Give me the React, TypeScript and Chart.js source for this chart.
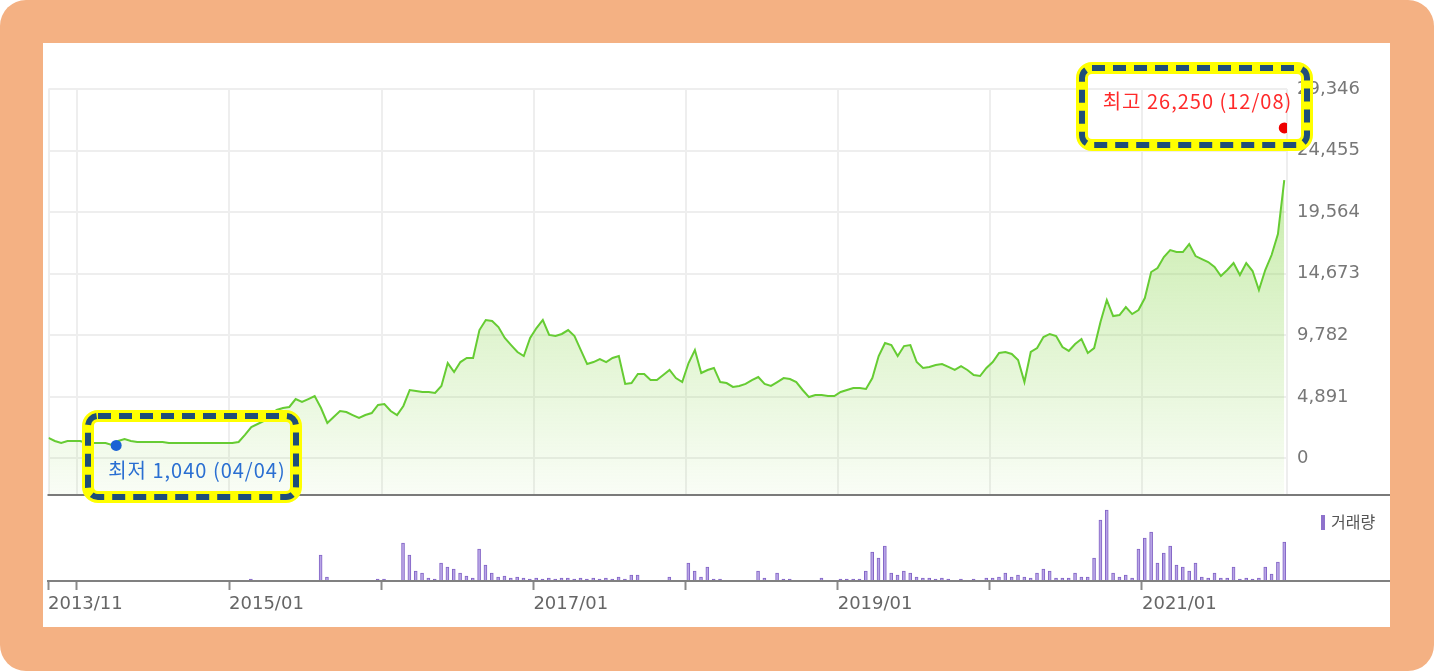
import React, { useEffect, useRef } from 'react';
import { Chart, registerables } from 'chart.js';

Chart.register(...registerables);

// ---- time axis (decimal years, half-month samples) ----
const START = 2013.81;
const STEP = 1 / 24;
const END = 2021.953;

// ---- closing prices (원), one every half month ----
const prices = [
  1630, 1390, 1230, 1390, 1390, 1390, 1230, 1230, 1230, 1230,
  1070, 1390, 1550, 1390, 1310, 1310, 1310, 1310, 1310, 1230,
  1230, 1230, 1230, 1230, 1230, 1230, 1230, 1230, 1230, 1230,
  1310, 1870, 2500, 2740, 2980, 3450, 3850, 4010, 4090, 4720,
  4490, 4720, 4960, 4010, 2820, 3300, 3770, 3690, 3450, 3220,
  3450, 3610, 4250, 4330, 3770, 3450, 4170, 5440, 5360, 5280,
  5280, 5200, 5760, 7580, 6870, 7660, 7980, 7980, 10200, 11000,
  10920, 10440, 9570, 9010, 8460, 8140, 9570, 10360, 11000, 9810,
  9730, 9890, 10200, 9730, 8610, 7500, 7660, 7900, 7660, 7980,
  8140, 5920, 5990, 6710, 6710, 6230, 6230, 6630, 7030, 6390,
  6070, 7580, 8610, 6790, 7030, 7190, 6070, 5990, 5680, 5760,
  5920, 6230, 6470, 5920, 5760, 6070, 6390, 6310, 6070, 5440,
  4880, 5040, 5040, 4960, 4960, 5280, 5440, 5600, 5600, 5520,
  6390, 8140, 9170, 9010, 8140, 8930, 9010, 7660, 7190, 7270,
  7420, 7500, 7270, 7030, 7340, 7030, 6630, 6550, 7190, 7660,
  8380, 8460, 8300, 7820, 6070, 8460, 8770, 9650, 9890, 9730,
  8850, 8540, 9090, 9490, 8380, 8770, 10840, 12580, 11310, 11390,
  12030, 11470, 11790, 12740, 14810, 15130, 16000, 16550, 16400, 16400,
  17030, 16080, 15840, 15600, 15210, 14490, 14970, 15520, 14570, 15520,
  14890, 13380, 14970, 16160, 17830, 22110,
];

// ---- trading volume (thousand shares), same sampling ----
const volumes = [
  0, 0, 0, 0, 0, 0, 0, 0, 0, 0,
  0, 0, 0, 0, 0, 0, 0, 0, 0, 0,
  0, 0, 0, 0, 0, 0, 0, 0, 0, 0,
  0, 0, 20, 0, 0, 0, 0, 0, 0, 0,
  0, 0, 0, 260, 40, 0, 0, 0, 0, 0,
  0, 0, 20, 20, 0, 0, 380, 260, 100, 80,
  30, 20, 180, 140, 120, 80, 50, 30, 320, 160,
  80, 40, 50, 30, 40, 30, 20, 30, 20, 30,
  20, 30, 30, 20, 30, 20, 30, 20, 30, 20,
  40, 20, 60, 60, 0, 0, 0, 0, 40, 0,
  0, 180, 100, 40, 140, 20, 20, 0, 0, 0,
  0, 0, 100, 30, 0, 80, 20, 20, 0, 0,
  0, 0, 30, 0, 0, 20, 20, 20, 20, 100,
  290, 230, 350, 80, 60, 100, 80, 40, 30, 30,
  20, 30, 20, 0, 20, 0, 20, 0, 30, 30,
  40, 80, 40, 60, 40, 30, 80, 120, 100, 30,
  30, 30, 80, 40, 40, 230, 610, 710, 80, 40,
  60, 30, 320, 430, 490, 180, 280, 350, 160, 140,
  100, 180, 40, 30, 80, 30, 30, 140, 20, 30,
  20, 30, 140, 70, 190, 390,
];

// ---- axis ticks and labels ----
const priceTicks = [0, 4891, 9782, 14673, 19564, 24455, 29346];
const yearTicks = [2014, 2015, 2016, 2017, 2018, 2019, 2020, 2021];
const firstLabel = '2013/11';
const yearLabels: Record<number, string> = {
  2015: '2015/01',
  2017: '2017/01',
  2019: '2019/01',
  2021: '2021/01',
};

// ---- extremes ----
const lowPoint = { t: 2014.255, v: 1040, text: '최저 1,040 (04/04)' };
const highPoint = { t: START + 195 * STEP, v: 26250, text: '최고 26,250 (12/08)' };
const volumeLegend = '거래량';

const times = prices.map((_, i) => START + i * STEP);

function dashedBox(ctx: CanvasRenderingContext2D, x: number, y: number, w: number, h: number, r: number) {
  ctx.save();
  ctx.beginPath();
  (ctx as any).roundRect(x, y, w, h, r);
  ctx.strokeStyle = '#ffff00';
  ctx.lineWidth = 12;
  ctx.setLineDash([]);
  ctx.stroke();
  ctx.beginPath();
  (ctx as any).roundRect(x, y, w, h, r);
  ctx.strokeStyle = '#1f4e79';
  ctx.lineWidth = 6;
  ctx.setLineDash([13, 8]);
  ctx.stroke();
  ctx.restore();
}

const priceOverlay = {
  id: 'priceOverlay',
  afterDraw(chart: any) {
    const { ctx, chartArea } = chart;
    ctx.save();
    // separator line
    ctx.beginPath();
    ctx.strokeStyle = '#7a7a7a';
    ctx.lineWidth = 2;
    ctx.moveTo(chartArea.left - 1, chartArea.bottom);
    ctx.lineTo(chart.width, chartArea.bottom);
    ctx.stroke();

    const lowEl = chart.getDatasetMeta(1).data[0];
    const highEl = chart.getDatasetMeta(2).data[0];
    ctx.font = '20px "Noto Sans CJK KR", sans-serif';
    (ctx as any).letterSpacing = '1px';
    ctx.textBaseline = 'middle';
    if (lowEl) {
      ctx.fillStyle = '#2a6fd2';
      ctx.textAlign = 'left';
      ctx.fillText(lowPoint.text, lowEl.x - 8, lowEl.y + 25);
    }
    if (highEl) {
      ctx.fillStyle = '#ff2a2a';
      ctx.textAlign = 'right';
      ctx.fillText(highPoint.text, highEl.x + 8, highEl.y - 27);
    }
    ctx.restore();

    // highlight boxes
    dashedBox(ctx, 1039, 25, 225, 77, 10);
    dashedBox(ctx, 45, 373, 208, 81, 10);
  },
};

const volumeOverlay = {
  id: 'volumeOverlay',
  afterDraw(chart: any) {
    const { ctx, chartArea } = chart;
    ctx.save();
    ctx.beginPath();
    ctx.strokeStyle = '#808080';
    ctx.lineWidth = 2;
    ctx.moveTo(chartArea.left - 1, chartArea.bottom);
    ctx.lineTo(chart.width, chartArea.bottom);
    ctx.stroke();
    // legend
    ctx.fillStyle = '#8e72cc';
    ctx.fillRect(1278, 18, 4, 15);
    ctx.fillStyle = '#555555';
    ctx.font = '16px "Noto Sans CJK KR", sans-serif';
    ctx.textBaseline = 'middle';
    ctx.textAlign = 'left';
    ctx.fillText(volumeLegend, 1288, 25);
    ctx.restore();
  },
};

export default function App() {
  const priceRef = useRef<HTMLCanvasElement>(null);
  const volRef = useRef<HTMLCanvasElement>(null);

  useEffect(() => {
    const pc = new Chart(priceRef.current as HTMLCanvasElement, {
      type: 'line',
      data: {
        datasets: [
          {
            data: times.map((t, i) => ({ x: t, y: prices[i] })),
            borderColor: '#66cc33',
            borderWidth: 2,
            pointRadius: 0,
            tension: 0,
            fill: 'start',
            backgroundColor: (c: any) => {
              const a = c.chart.chartArea;
              if (!a) return 'rgba(150,220,100,0.3)';
              const g = c.chart.ctx.createLinearGradient(0, a.top, 0, a.bottom);
              g.addColorStop(0, 'rgba(140,215,80,0.6)');
              g.addColorStop(1, 'rgba(140,215,80,0.05)');
              return g;
            },
            order: 3,
          } as any,
          {
            type: 'scatter',
            data: [{ x: lowPoint.t, y: lowPoint.v }],
            pointRadius: 5.5,
            pointBackgroundColor: '#1a62d4',
            pointBorderWidth: 0,
            order: 1,
          } as any,
          {
            type: 'scatter',
            data: [{ x: highPoint.t, y: highPoint.v }],
            pointRadius: 5.5,
            pointBackgroundColor: '#ee0000',
            pointBorderWidth: 0,
            order: 1,
          } as any,
        ],
      },
      options: {
        animation: false,
        responsive: false,
        maintainAspectRatio: false,
        layout: { padding: { left: 5, top: 46, right: 0, bottom: 25 } },
        plugins: { legend: { display: false }, tooltip: { enabled: false } },
        scales: {
          x: {
            type: 'linear',
            min: START,
            max: END,
            afterBuildTicks: (s: any) => {
              s.ticks = [START, ...yearTicks, END].map((v) => ({ value: v }));
            },
            afterFit: (s: any) => {
              s.height = 0;
            },
            ticks: { display: false },
            grid: { color: '#eeeeee', lineWidth: 2, drawTicks: false },
            border: { display: false },
          },
          y: {
            position: 'right',
            min: -2900,
            max: 29346,
            afterBuildTicks: (s: any) => {
              s.ticks = priceTicks.map((v) => ({ value: v }));
            },
            afterFit: (s: any) => {
              s.width = 103;
            },
            ticks: {
              padding: 10,
              color: '#777777',
              font: { family: '"DejaVu Sans", sans-serif', size: 18 },
              callback: (v: any) => Number(v).toLocaleString('en-US'),
            },
            grid: { color: '#eeeeee', lineWidth: 2, drawTicks: false },
            border: { display: false },
          },
        },
      } as any,
      plugins: [priceOverlay],
    });

    const vc = new Chart(volRef.current as HTMLCanvasElement, {
      type: 'bar',
      data: {
        datasets: [
          {
            data: times.map((t, i) => ({ x: t, y: volumes[i] })),
            backgroundColor: '#b8a5e6',
            borderColor: '#8364c6',
            borderWidth: { left: 1, right: 1, top: 1, bottom: 0 },
            barThickness: 3,
          } as any,
        ],
      },
      options: {
        animation: false,
        responsive: false,
        maintainAspectRatio: false,
        layout: { padding: { left: 5, right: 103, top: 4, bottom: 0 } },
        plugins: { legend: { display: false }, tooltip: { enabled: false } },
        scales: {
          x: {
            type: 'linear',
            min: START,
            max: END,
            offset: false,
            afterBuildTicks: (s: any) => {
              s.ticks = [START, ...yearTicks].map((v) => ({ value: v }));
            },
            afterFit: (s: any) => {
              s.height = 46;
            },
            ticks: {
              autoSkip: false,
              maxRotation: 0,
              align: 'start',
              padding: 4,
              color: '#666666',
              font: { family: '"DejaVu Sans", sans-serif', size: 18 },
              callback: (v: any) => {
                const n = Number(v);
                if (Math.abs(n - START) < 1e-6) return firstLabel;
                return yearLabels[n] || '';
              },
            },
            grid: {
              offset: false,
              drawOnChartArea: false,
              drawTicks: true,
              tickLength: 9,
              tickColor: '#8a8a8a',
              tickWidth: 2,
            },
            border: { display: false },
          },
          y: { display: false, min: 0, max: 800 },
        },
      } as any,
      plugins: [volumeOverlay],
    });

    return () => {
      pc.destroy();
      vc.destroy();
    };
  }, []);

  return (
    <div style={{ position: 'absolute', left: 0, top: 0, width: 1434, height: 671, background: '#ffffff', overflow: 'hidden' }}>
      <div style={{ position: 'absolute', left: 0, top: 0, width: 1434, height: 671, background: '#F4B183', borderRadius: 26 }} />
      <div style={{ position: 'absolute', left: 43, top: 43, width: 1347, height: 584, background: '#ffffff' }} />
      <canvas ref={volRef} width={1347} height={130} style={{ position: 'absolute', left: 43, top: 497, width: 1347, height: 130 }} />
      <canvas ref={priceRef} width={1347} height={477} style={{ position: 'absolute', left: 43, top: 43, width: 1347, height: 477 }} />
    </div>
  );
}
